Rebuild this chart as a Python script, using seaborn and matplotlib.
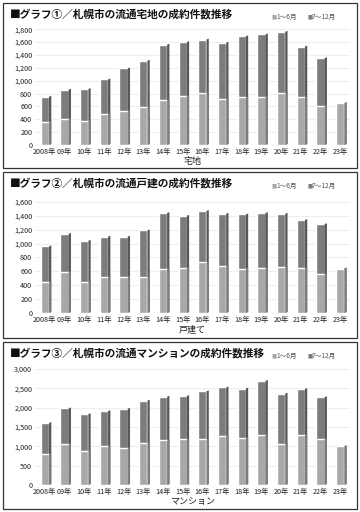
import numpy as np
import pandas as pd
import seaborn as sns
import matplotlib.pyplot as plt
from matplotlib.patches import Rectangle, Polygon
from matplotlib.ticker import FuncFormatter

years = ['2008年', '09年', '10年', '11年', '12年', '13年', '14年', '15年',
         '16年', '17年', '18年', '19年', '20年', '21年', '22年', '23年']

# 宅地
land_h1 = [360, 410, 370, 480, 530, 590, 700, 760, 810, 710, 740, 750, 810, 740, 610, 650]
land_h2 = [390, 450, 500, 540, 660, 720, 860, 840, 830, 880, 950, 970, 950, 790, 740, 0]
# 戸建て
house_h1 = [440, 590, 450, 520, 520, 520, 640, 650, 730, 680, 640, 650, 660, 650, 560, 640]
house_h2 = [520, 550, 590, 580, 580, 670, 800, 750, 740, 750, 780, 790, 770, 690, 720, 0]
# マンション
mansion_h1 = [790, 1050, 870, 1000, 960, 1090, 1150, 1180, 1180, 1270, 1210, 1290, 1060, 1280, 1180, 1000]
mansion_h2 = [810, 930, 960, 910, 1010, 1090, 1130, 1120, 1240, 1250, 1280, 1400, 1300, 1200, 1090, 0]

titles = ['■グラフ①／札幌市の流通宅地の成約件数推移',
          '■グラフ②／札幌市の流通戸建の成約件数推移',
          '■グラフ③／札幌市の流通マンションの成約件数推移']
xlabels = ['宅地', '戸建て', 'マンション']
ymax = [1850, 1700, 3100]
ystep = [200, 200, 500]

sns.set_style('white')
plt.rcParams['font.family'] = ['Noto Sans CJK JP', 'DejaVu Sans']

LIGHT = '#a8a8ab'
DARK = '#7c7c7c'

fig = plt.figure(figsize=(3.6, 5.12), dpi=100)
W, H = 360, 512

# panel boxes (pixels from top): top, bottom
panels = [(3, 168), (172, 338), (342, 509)]
# axes (pixels from top): top, bottom
axes_px = [(26, 145), (195, 313), (365, 485)]

datasets = [(land_h1, land_h2), (house_h1, house_h2), (mansion_h1, mansion_h2)]

for i in range(3):
    ptop, pbot = panels[i]
    fig.patches.append(Rectangle((3 / W, 1 - pbot / H), 354 / W, (pbot - ptop) / H,
                                 transform=fig.transFigure, fill=False,
                                 edgecolor='#333333', linewidth=0.9))
    atop, abot = axes_px[i]
    ax = fig.add_axes([35 / W, 1 - abot / H, 315 / W, (abot - atop) / H])

    h1, h2 = datasets[i]
    df = pd.DataFrame({'year': years, 'h1': h1, 'h2': h2})
    df['total'] = df['h1'] + df['h2']

    sns.barplot(data=df, x='year', y='total', color=DARK, width=0.42,
                saturation=1, ax=ax, zorder=3)
    sns.barplot(data=df, x='year', y='h1', color=LIGHT, width=0.42,
                saturation=1, ax=ax, zorder=4)

    # right side face for a 3D look
    for p in ax.patches:
        x0 = p.get_x() + p.get_width()
        y0 = p.get_y()
        h = p.get_height()
        if h <= 0:
            continue
        dx = p.get_width() * 0.28
        dy = ymax[i] * 0.008
        shade = '#575757' if p.get_facecolor()[0] < 0.55 else '#7c7c7e'
        ax.add_patch(Polygon([(x0, y0), (x0 + dx, y0 + dy), (x0 + dx, y0 + h + dy), (x0, y0 + h)],
                             closed=True, facecolor=shade, edgecolor='none',
                             zorder=p.get_zorder()))

    ax.set_ylim(0, ymax[i])
    ax.set_xlim(-0.5, 15.5)
    ax.set_yticks(np.arange(0, ymax[i], ystep[i]))
    ax.yaxis.set_major_formatter(FuncFormatter(lambda v, pos: f'{int(v):,}'))
    ax.grid(axis='y', color='#eeeeee', linewidth=0.8, zorder=0)
    for s in ax.spines.values():
        s.set_visible(False)
    ax.tick_params(axis='both', length=0, labelsize=5.2, colors='#222222', pad=2)
    ax.set_ylabel('')
    ax.set_xlabel(xlabels[i], fontsize=6.5, color='#222222', labelpad=1)

    fig.text(10 / W, 1 - (ptop + 11) / H, titles[i], fontsize=7.7, fontweight='bold',
             va='center', ha='left', color='#111111')
    ly = 1 - (ptop + 14) / H
    fig.text(272 / W, ly, '■', fontsize=4, family='DejaVu Sans', color=LIGHT,
             va='center', ha='left')
    fig.text(276 / W, ly, '1～6月', fontsize=4.8, color='#555555', va='center', ha='left')
    fig.text(308 / W, ly, '■', fontsize=4, family='DejaVu Sans', color=DARK,
             va='center', ha='left')
    fig.text(312 / W, ly, '7～12月', fontsize=4.8, color='#555555', va='center', ha='left')

fig.savefig('out.png', dpi=100)
